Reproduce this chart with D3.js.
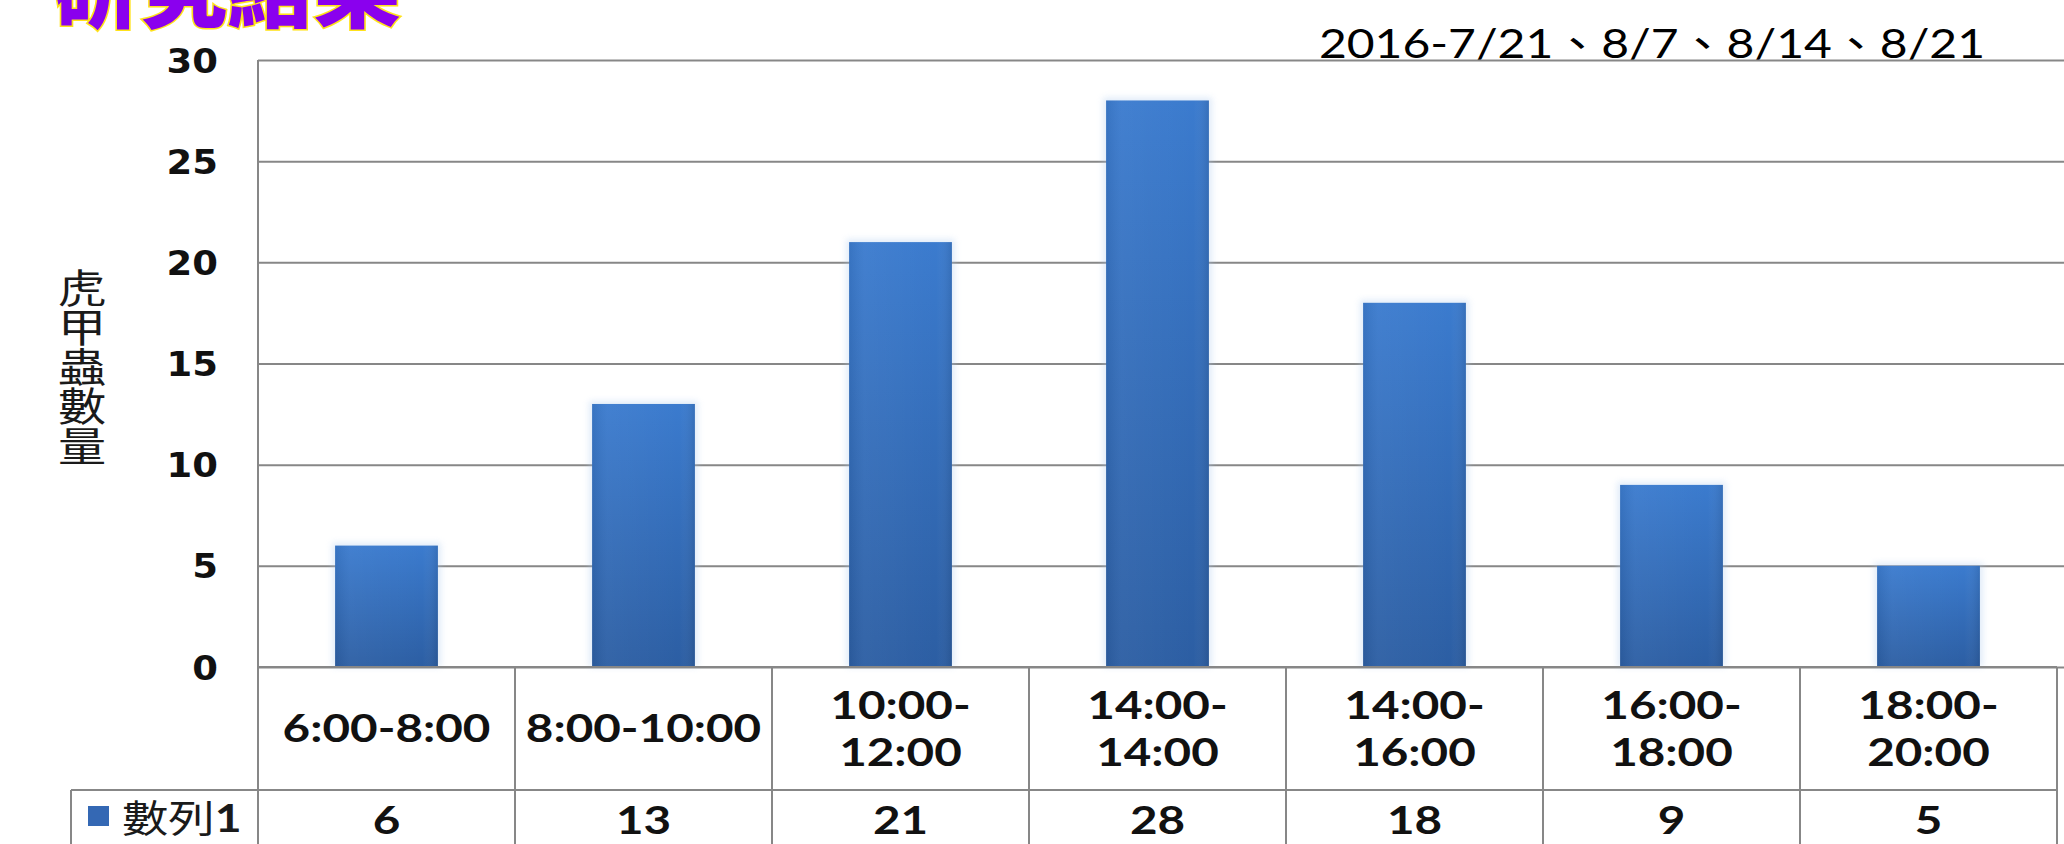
<!DOCTYPE html>
<html>
<head>
<meta charset="utf-8">
<script src="https://cdn.jsdelivr.net/npm/d3@7"></script>
<style>
  html, body { margin: 0; padding: 0; background: #ffffff; }
  svg { display: block; }
</style>
</head>
<body>
<svg id="chart" width="2064" height="844"></svg>
<script>
// ---- data ----
const pageTitle = "研究結果";
const subtitle = "2016-7/21、8/7、8/14、8/21";
const axisTitle = "虎甲蟲數量";
const seriesName = "數列";
const seriesIndex = "1";
const categories = ["6:00-8:00", "8:00-10:00", "10:00-12:00", "14:00-14:00", "14:00-16:00", "16:00-18:00", "18:00-20:00"];
const categoryLines = [["6:00-8:00"], ["8:00-10:00"], ["10:00-", "12:00"], ["14:00-", "14:00"], ["14:00-", "16:00"], ["16:00-", "18:00"], ["18:00-", "20:00"]];
const counts = [6, 13, 21, 28, 18, 9, 5];
const yTicks = [0, 5, 10, 15, 20, 25, 30];

// ---- layout ----
const W = 2064, H = 844;
const SX = 1.22;                // horizontal stretch applied to text glyphs
const plotLeft = 258, plotRight = 2057, gridRight = 2064;
const plotTop = 60, plotBottom = 667;
const rowSplit = 790;           // line between category row and value row
const legendLeft = 71;
const lineColor = "#878787";
const latin = "Lato, 'Open Sans', sans-serif";
const cjk = "'Noto Sans CJK TC', 'Noto Sans CJK SC', sans-serif";

const svg = d3.select("#chart");

const x = d3.scaleBand().domain(categories).range([plotLeft, plotRight])
  .paddingInner(0.6).paddingOuter(0.3);
const y = d3.scaleLinear().domain([0, 30]).range([plotBottom, plotTop]);

// bar gradients
const defs = svg.append("defs");
const grad = defs.append("linearGradient").attr("id", "barFill")
  .attr("x1", 0).attr("y1", 0).attr("x2", 0).attr("y2", 1);
grad.append("stop").attr("offset", "0%").attr("stop-color", "#3b7bce");
grad.append("stop").attr("offset", "100%").attr("stop-color", "#2c5ea3");
const hgrad = defs.append("linearGradient").attr("id", "barShade")
  .attr("x1", 0).attr("y1", 0).attr("x2", 1).attr("y2", 0);
hgrad.append("stop").attr("offset", "0%").attr("stop-color", "#000").attr("stop-opacity", 0.06);
hgrad.append("stop").attr("offset", "15%").attr("stop-color", "#fff").attr("stop-opacity", 0.04);
hgrad.append("stop").attr("offset", "85%").attr("stop-color", "#fff").attr("stop-opacity", 0.0);
hgrad.append("stop").attr("offset", "100%").attr("stop-color", "#000").attr("stop-opacity", 0.10);
const glow = defs.append("filter").attr("id", "barGlow")
  .attr("x", "-20%").attr("y", "-5%").attr("width", "140%").attr("height", "110%");
glow.append("feGaussianBlur").attr("stdDeviation", 3);

// stretched text helper
function stext(g, tx, ty, str, opts) {
  return g.append("text")
    .attr("transform", `translate(${tx},${ty}) scale(${opts.sx || SX},1)`)
    .attr("text-anchor", opts.anchor || "middle")
    .attr("font-family", opts.family || latin)
    .attr("font-weight", opts.weight || "normal")
    .attr("font-size", opts.size)
    .attr("fill", opts.fill || "#111")
    .text(str);
}

// ---- page title (cut off at top) ----
svg.append("text")
  .attr("transform", `translate(53,21) scale(1.06,1)`)
  .attr("font-family", cjk)
  .attr("font-weight", 900)
  .attr("font-size", 82)
  .attr("fill", "#8a00ee")
  .attr("stroke", "#ffe21a")
  .attr("stroke-width", 3)
  .attr("paint-order", "stroke")
  .text(pageTitle);

// ---- subtitle ----
stext(svg, 1985, 58, subtitle, { anchor: "end", size: 40, sx: 1.2, family: latin + ", 'Noto Sans CJK TC'", fill: "#000" });

// ---- gridlines ----
svg.append("g")
  .attr("transform", `translate(${plotLeft},0)`)
  .call(d3.axisLeft(y).tickValues(yTicks).tickSize(-(gridRight - plotLeft)).tickFormat(""))
  .call(g => g.select(".domain").remove())
  .call(g => g.selectAll(".tick line").attr("stroke", lineColor).attr("stroke-width", 2));

// ---- y tick labels ----
svg.append("g")
  .attr("transform", `translate(218,0)`)
  .call(d3.axisLeft(y).tickValues(yTicks).tickSize(0).tickPadding(0))
  .call(g => g.select(".domain").remove())
  .call(g => g.selectAll(".tick text")
    .attr("x", 0).attr("dy", null)
    .attr("y", 12)
    .attr("transform", `scale(1.12,1)`)
    .attr("text-anchor", "end")
    .attr("font-family", "'DejaVu Sans', Verdana, sans-serif")
    .attr("font-weight", "bold")
    .attr("font-size", 33)
    .attr("fill", "#111"));

// ---- y axis title (vertical writing) ----
svg.append("text")
  .attr("transform", `translate(82,268) scale(${SX},1)`)
  .attr("x", 0).attr("y", 0)
  .style("writing-mode", "vertical-rl")
  .attr("font-family", cjk)
  .attr("font-size", 39.5)
  .attr("fill", "#1a1a1a")
  .text(axisTitle);

// ---- bars ----
const bars = svg.append("g");
bars.selectAll("rect.halo").data(counts).join("rect")
  .attr("class", "halo")
  .attr("x", (d, i) => x(categories[i]) - 3)
  .attr("width", x.bandwidth() + 6)
  .attr("y", d => y(d) - 3)
  .attr("height", d => y(0) - y(d) + 3)
  .attr("fill", "#a9c8ee")
  .attr("opacity", 0.35)
  .attr("filter", "url(#barGlow)");
bars.selectAll("rect.bar").data(counts).join("rect")
  .attr("class", "bar")
  .attr("x", (d, i) => x(categories[i]))
  .attr("width", x.bandwidth())
  .attr("y", d => y(d))
  .attr("height", d => y(0) - y(d))
  .attr("fill", "url(#barFill)");
bars.selectAll("rect.shade").data(counts).join("rect")
  .attr("class", "shade")
  .attr("x", (d, i) => x(categories[i]))
  .attr("width", x.bandwidth())
  .attr("y", d => y(d))
  .attr("height", d => y(0) - y(d))
  .attr("fill", "url(#barShade)");

// ---- data table ----
const table = svg.append("g").attr("stroke", lineColor).attr("stroke-width", 2);
const step = x.step();
const bounds = d3.range(categories.length + 1).map(i => plotLeft + i * step);
// plot left edge continues into the table
table.append("line").attr("x1", plotLeft).attr("x2", plotLeft).attr("y1", plotTop).attr("y2", H);
bounds.slice(1).forEach(bx => {
  table.append("line").attr("x1", bx).attr("x2", bx).attr("y1", plotBottom).attr("y2", H);
});
table.append("line").attr("x1", plotLeft).attr("x2", plotRight).attr("y1", plotBottom).attr("y2", plotBottom);
table.append("line").attr("x1", legendLeft).attr("x2", plotRight).attr("y1", rowSplit).attr("y2", rowSplit);
table.append("line").attr("x1", legendLeft).attr("x2", legendLeft).attr("y1", rowSplit).attr("y2", H);

// category labels
const catFont = 39;
categoryLines.forEach((lines, i) => {
  const cx = x(categories[i]) + x.bandwidth() / 2;
  const rowMid = (plotBottom + rowSplit) / 2;
  const lh = 47;
  const top = rowMid - (lines.length - 1) * lh / 2;
  lines.forEach((ln, j) => {
    stext(svg, cx, top + j * lh + catFont * 0.358, ln, { size: catFont, weight: "bold" });
  });
});

// value row
counts.forEach((v, i) => {
  const cx = x(categories[i]) + x.bandwidth() / 2;
  stext(svg, cx, 820 + catFont * 0.358, String(v), { size: catFont, weight: "bold" });
});

// legend key
svg.append("rect").attr("x", 88).attr("y", 806).attr("width", 21).attr("height", 20)
  .attr("fill", "#3468b4");
const lg = svg.append("text")
  .attr("transform", `translate(122,832) scale(${SX},1)`)
  .attr("font-size", 38)
  .attr("fill", "#1a1a1a");
lg.append("tspan").attr("font-family", cjk).text(seriesName);
lg.append("tspan").attr("font-family", latin).attr("font-weight", "bold").text(seriesIndex);
</script>
</body>
</html>
